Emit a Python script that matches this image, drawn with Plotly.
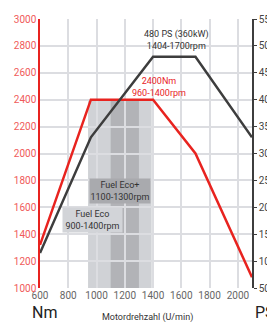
import plotly.graph_objects as go

rpm_torque = [600, 960, 1400, 1700, 2100]
torque_nm = [1320, 2400, 2400, 2000, 1080]
rpm_power = [600, 960, 1400, 1700, 2100]
power_ps = [115, 330, 480, 480, 330]

x_ticks = [600, 800, 1000, 1200, 1400, 1600, 1800, 2000]
nm_ticks = list(range(1000, 3001, 200))
ps_ticks = list(range(50, 551, 50))

eco_range = [940, 1390]
eco_plus_range = [1100, 1300]
band_nm = [1000, 2400]

FONT = "Liberation Sans Narrow, Roboto, sans-serif"
RED = "#e8231f"
DARK = "#3d3d3d"

fig = go.Figure()
fig.add_trace(go.Scatter(x=rpm_torque, y=torque_nm, mode="lines",
                         line=dict(color=RED, width=2.5), yaxis="y", hoverinfo="skip"))
fig.add_trace(go.Scatter(x=rpm_power, y=power_ps, mode="lines",
                         line=dict(color=DARK, width=2.5), yaxis="y2", hoverinfo="skip"))

fig.add_shape(type="rect", xref="x", yref="y", x0=eco_range[0], x1=eco_range[1],
              y0=band_nm[0], y1=band_nm[1], fillcolor="#d0d2d6", line_width=0, layer="below")
fig.add_shape(type="rect", xref="x", yref="y", x0=eco_plus_range[0], x1=eco_plus_range[1],
              y0=band_nm[0], y1=band_nm[1], fillcolor="#b2b3b7", line_width=0, layer="below")

fig.add_annotation(x=1167, y=1719, xref="x", yref="y", text="Fuel Eco+<br>1100-1300rpm",
                   showarrow=False, bgcolor="#a9aaae", width=60, height=24, borderpad=0,
                   font=dict(family=FONT, size=9, color="#333333"))
fig.add_annotation(x=968, y=1502, xref="x", yref="y", text="Fuel Eco<br>900-1400rpm",
                   showarrow=False, bgcolor="#d2d4d8", width=59, height=24, borderpad=0,
                   font=dict(family=FONT, size=9, color="#333333"))
fig.add_annotation(x=1565, y=2842, xref="x", yref="y", text="480 PS (360kW)<br>1404-1700rpm",
                   showarrow=False, font=dict(family=FONT, size=9, color="#333333"))
fig.add_annotation(x=1442, y=2494, xref="x", yref="y", text="2400Nm<br>960-1400rpm",
                   showarrow=False, font=dict(family=FONT, size=9, color=RED))

fig.add_annotation(x=30, y=324, xref="paper", yref="paper", text="Nm", showarrow=False,
                   font=dict(family=FONT, size=16, color="#222222"))
fig.add_annotation(x=147, y=325, xref="paper", yref="paper", text="Motordrehzahl (U/min)",
                   showarrow=False, font=dict(family=FONT, size=9, color="#333333"))
fig.add_annotation(x=253, y=324, xref="paper", yref="paper", text="PS", showarrow=False,
                   xanchor="left", font=dict(family=FONT, size=16, color="#222222"))

fig.update_layout(
    width=267, height=331,
    margin=dict(l=40, r=15, t=19, b=43, autoexpand=False),
    paper_bgcolor="white", plot_bgcolor="white",
    showlegend=False,
    font=dict(family=FONT, size=10),
    xaxis=dict(range=[600, 2100], tickvals=x_ticks, showgrid=True, gridcolor="#dcdde1",
               gridwidth=1.5, zeroline=False, showline=False, automargin=False,
               tickfont=dict(family=FONT, size=10, color="#666666")),
    yaxis=dict(range=[1000, 3000], tickvals=nm_ticks, showgrid=True, gridcolor="#dcdde1",
               gridwidth=1.5, zeroline=False, showline=True, linecolor=RED, linewidth=1.5,
               automargin=False,
               tickfont=dict(family=FONT, size=10, color="#f05a5a")),
    yaxis2=dict(range=[50, 550], tickvals=ps_ticks, overlaying="y", side="right",
                showgrid=False, zeroline=False, showline=True, linecolor=DARK, linewidth=1.5,
                ticks="outside", ticklen=3, tickcolor=DARK, automargin=False,
                tickfont=dict(family=FONT, size=10, color="#444444")),
)

# convert pixel-positioned paper annotations
W, H = 267, 331
l, r, t, b = 40, 15, 19, 43
pw, ph = W - l - r, H - t - b
for ann in fig.layout.annotations:
    if ann.xref == "paper":
        ann.x = (ann.x - l) / pw
        ann.y = (H - b - ann.y) / ph

fig.write_html("out.html", config={"displayModeBar": False},
               post_script="document.body.style.margin='0';document.body.style.overflow='hidden';")
